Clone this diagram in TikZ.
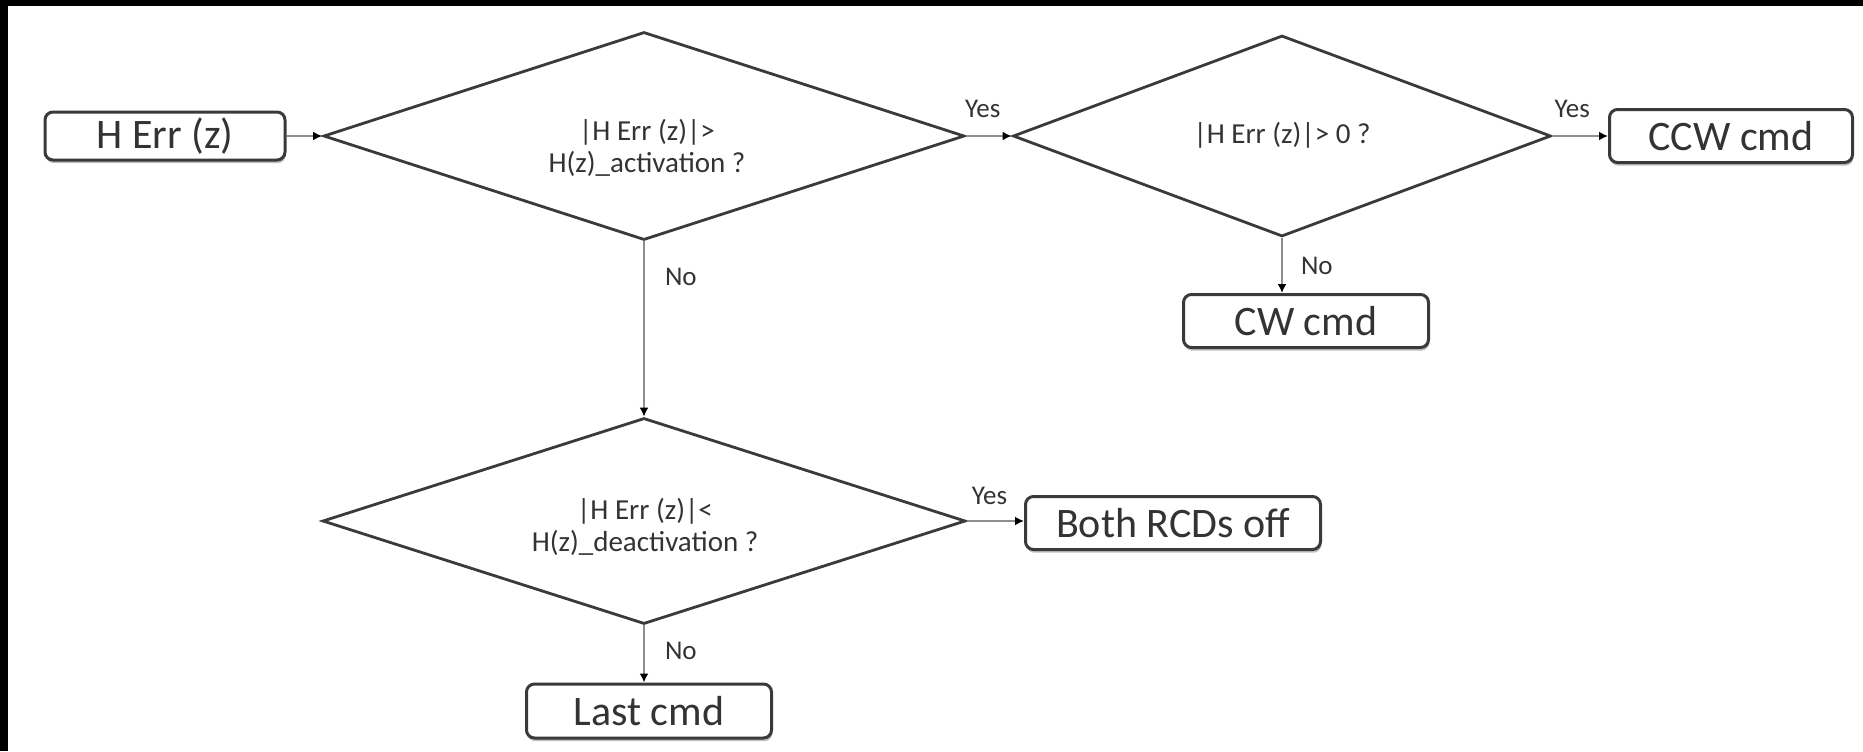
\documentclass[tikz,border=0pt]{standalone}
\usepackage{fontspec}
\setmainfont{Carlito}
\usetikzlibrary{shapes.geometric,arrows.meta,shadows}

\definecolor{borde}{HTML}{3A3A3A}
\definecolor{linea}{HTML}{8E8E8E}
\definecolor{texto}{HTML}{333333}

\tikzset{
  caja/.style={draw=borde, fill=white, line width=1.5pt, rounded corners=4pt, text=texto,
    font=\fontsize{21}{24}\selectfont, inner sep=0pt,
    drop shadow={shadow xshift=0.4pt, shadow yshift=-1.6pt, fill=black!25, opacity=1}},
  rombo/.style={diamond, aspect=3, draw=borde, line width=1.4pt, inner sep=0pt},
  pregunta/.style={text=texto, font=\fontsize{14.5}{16}\selectfont, align=center, inner sep=0pt},
  flecha/.style={draw=linea, line width=1pt,
    -{Latex[length=4.5pt,width=4.5pt,color=black]}},
  etiq/.style={text=texto, font=\fontsize{13.5}{15}\selectfont, inner sep=0pt}
}

\begin{document}
\begin{tikzpicture}[x=0.5pt, y=-0.5pt]
  \useasboundingbox (0,0) rectangle (1863,751);

  % Marco
  \fill[black] (0,0) rectangle (1863,6);
  \fill[black] (0,0) rectangle (8,751);

  % Rombos
  \node[rombo, minimum width=320.5pt, minimum height=104pt] (act) at (644,136) {};
  \node[rombo, minimum width=269pt, minimum height=100.5pt] (signo) at (1282,136) {};
  \node[rombo, minimum width=321.5pt, minimum height=103pt] (desact) at (644,521) {};
  \node[pregunta] (acttxt) at (647,148) {|H Err (z)|>\\H(z)\_activation ?};
  \node[pregunta] (signotxt) at (1282,135) {|H Err (z)|> 0 ?};
  \node[pregunta] (desacttxt) at (645,527) {|H Err (z)|<\\H(z)\_deactivation ?};

  % Cajas
  \node[caja, minimum width=120pt, minimum height=24pt] (herr) at (165,136) {H Err (z)};
  \node[caja, minimum width=121.5pt, minimum height=26.5pt] (ccw) at (1731,136) {CCW cmd};
  \node[caja, minimum width=122.5pt, minimum height=26.5pt] (cw) at (1306,321) {CW cmd};
  \node[caja, minimum width=147.5pt, minimum height=26.5pt] (off) at (1173,523) {Both RCDs off};
  \node[caja, minimum width=122.5pt, minimum height=27pt] (last) at (649,711) {Last cmd};

  % Flechas
  \draw[flecha] (herr) -- (act.west);
  \draw[flecha] (act.east) -- node[etiq, above=8.5pt, xshift=-3pt] (si1) {Yes} (signo.west);
  \draw[flecha] (signo.east) -- node[etiq, above=8.5pt, xshift=-4pt] (si2) {Yes} (ccw.west);
  \draw[flecha] (signo.south) -- node[etiq, right=9pt] (no2) {No} (signo.south |- cw.north);
  \draw[flecha] (act.south) -- node[etiq, pos=0.2, right=10pt] (no1) {No} (desact.north);
  \draw[flecha] (desact.east) -- node[etiq, above=7.5pt, xshift=-3pt] (si3) {Yes} (desact.east -| off.west);
  \draw[flecha] (desact.south) -- node[etiq, pos=0.45, right=10pt] (no3) {No} (desact.south |- last.north);

\end{tikzpicture}
\end{document}
